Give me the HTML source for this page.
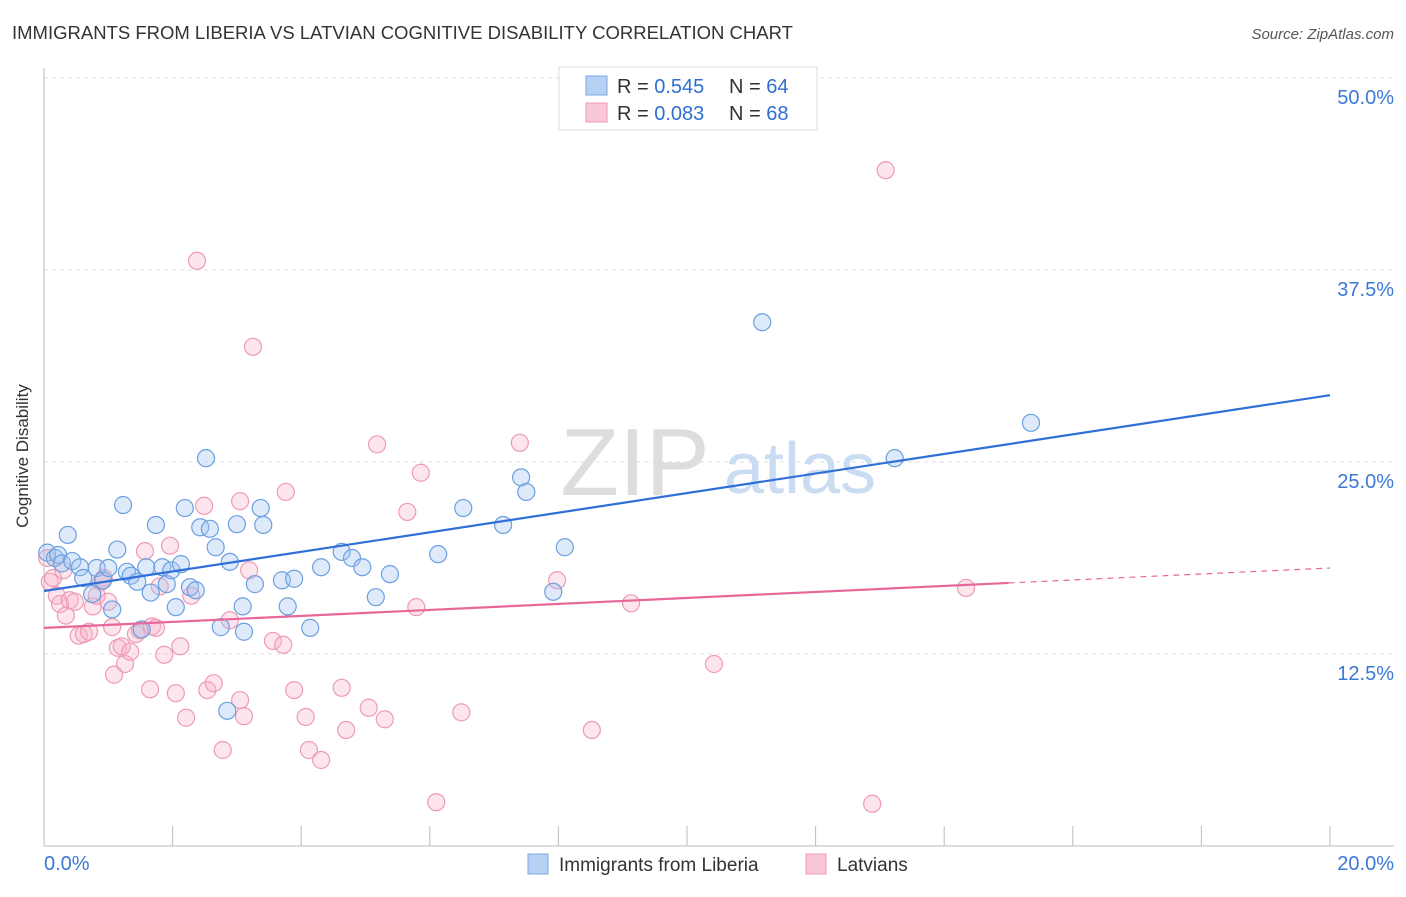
<!DOCTYPE html>
<html><head><meta charset="utf-8"><style>
body{margin:0;background:#fff;font-family:"Liberation Sans",sans-serif;}
svg text{font-family:"Liberation Sans",sans-serif;}
</style></head><body>
<svg id="chart" width="1406" height="892" xmlns="http://www.w3.org/2000/svg">
<text x="12" y="39" font-size="18.5" fill="#333">IMMIGRANTS FROM LIBERIA VS LATVIAN COGNITIVE DISABILITY CORRELATION CHART</text>
<text x="1394" y="39" font-size="15" fill="#555" text-anchor="end" font-style="italic">Source: ZipAtlas.com</text>
<text x="28" y="456" font-size="17" fill="#333" text-anchor="middle" transform="rotate(-90 28 456)">Cognitive Disability</text>
<g id="grid"></g>
<text x="635" y="495" font-size="96" fill="#ddd" font-family="Liberation Serif" text-anchor="middle">ZIP</text>
<text x="800" y="493" font-size="72" fill="#c9dcf2" text-anchor="middle">atlas</text>
<g id="marks"></g>
<g>
<rect x="559" y="67" width="258" height="63" fill="#fff" stroke="#ddd"/>
<rect x="586" y="76" width="21" height="19" fill="#b6d0f4" stroke="#7aa7e3"/>
<rect x="586" y="103" width="21" height="19" fill="#f9c8d6" stroke="#ef9ab5"/>
<text x="617" y="93" font-size="20" fill="#333">R = <tspan fill="#2f6fd1">0.545</tspan></text>
<text x="729" y="93" font-size="20" fill="#333">N = <tspan fill="#2f6fd1">64</tspan></text>
<text x="617" y="120" font-size="20" fill="#333">R = <tspan fill="#2f6fd1">0.083</tspan></text>
<text x="729" y="120" font-size="20" fill="#333">N = <tspan fill="#2f6fd1">68</tspan></text>
</g>
<g>
<rect x="528" y="854" width="20" height="20" fill="#b6d0f4" stroke="#7aa7e3"/>
<text x="559" y="871" font-size="19" fill="#333">Immigrants from Liberia</text>
<rect x="806" y="854" width="20" height="20" fill="#f9c8d6" stroke="#ef9ab5"/>
<text x="837" y="871" font-size="19" fill="#333">Latvians</text>
</g>
</svg>
<script>
const yTicks=[12.5,25,37.5,50];
const yTickLabels=["12.5%","25.0%","37.5%","50.0%"];
const xTicks=[2,4,6,8,10,12,14,16,18,20];
const xEndLabels=["0.0%","20.0%"];
const blueX=[0.05,0.17,0.22,0.28,0.37,0.44,0.56,0.61,0.75,0.82,0.92,1.0,1.06,1.14,1.23,1.29,1.35,1.45,1.52,1.59,1.66,1.74,1.84,1.91,1.98,2.05,2.13,2.19,2.27,2.36,2.43,2.52,2.58,2.67,2.75,2.85,2.89,3.0,3.09,3.11,3.28,3.37,3.41,3.7,3.79,3.89,4.14,4.31,4.63,4.79,4.95,5.16,5.38,6.13,6.52,7.14,7.42,7.5,7.92,8.1,11.17,13.23,15.35];
const blueY=[19.1,18.75,18.95,18.4,20.25,18.55,18.15,17.45,16.4,18.1,17.3,18.1,15.4,19.3,22.2,17.85,17.6,17.2,14.1,18.15,16.5,20.9,18.15,17.05,17.95,15.55,18.35,22.0,16.85,16.65,20.75,25.25,20.65,19.45,14.25,8.8,18.5,20.95,15.6,13.95,17.05,22.0,20.9,17.3,15.6,17.4,14.2,18.15,19.15,18.75,18.15,16.2,17.7,19.0,22.0,20.9,24.0,23.05,16.55,19.45,34.1,25.25,27.55];
const pinkX=[0.05,0.09,0.14,0.2,0.25,0.3,0.34,0.4,0.48,0.54,0.62,0.7,0.76,0.82,0.89,0.93,1.0,1.06,1.09,1.15,1.21,1.26,1.34,1.43,1.49,1.57,1.65,1.68,1.74,1.8,1.87,1.96,2.05,2.12,2.21,2.29,2.38,2.49,2.54,2.64,2.78,2.89,3.05,3.05,3.11,3.19,3.25,3.56,3.72,3.76,3.89,4.07,4.12,4.31,4.63,4.7,5.05,5.18,5.3,5.65,5.79,5.86,6.1,6.49,7.4,7.98,8.52,9.13,10.42,12.88,13.09,14.34];
const pinkY=[18.75,17.2,17.45,16.3,15.75,17.95,15.0,16.0,15.9,13.7,13.8,13.95,15.6,16.3,17.2,17.45,15.9,14.25,11.15,12.9,13.0,11.85,12.65,13.8,14.05,19.2,10.2,14.3,14.2,16.9,12.45,19.55,9.95,13.0,8.35,16.3,38.1,22.15,10.15,10.6,6.25,14.7,9.5,22.45,8.45,17.95,32.5,13.35,13.1,23.05,10.15,8.4,6.25,5.6,10.3,7.55,9.0,26.15,8.25,21.75,15.55,24.3,2.85,8.7,26.25,17.3,7.55,15.8,11.85,2.75,44.0,16.8];
const blueLine=[16.6,29.35];
const pinkLine=[14.2,18.1];
const pinkSolidEnd=15.0;

const NS="http://www.w3.org/2000/svg";
const X0=44,X1=1330,Y0=846,PX_PER_Y=15.36;
function sx(v){return X0+(X1-X0)*v/20;}
function sy(v){return Y0-v*PX_PER_Y;}
function mk(tag,attrs,parent){const e=document.createElementNS(NS,tag);for(const k in attrs)e.setAttribute(k,attrs[k]);parent.appendChild(e);return e;}
const grid=document.getElementById('grid'),marks=document.getElementById('marks');
yTicks.forEach((t,i)=>{
  const l=mk('line',{x1:X0,x2:1394,y1:sy(t),y2:sy(t),stroke:'#ddd','stroke-dasharray':'4,4'},grid);
  
  
  const tx=mk('text',{x:1394,y:sy(t)+26,'font-size':20,fill:'#3b78d8','text-anchor':'end'},grid);
  tx.textContent=yTickLabels[i];
  
  
});
const ax=mk('line',{x1:X0,x2:1394,y1:Y0,y2:Y0,stroke:'#bbb'},grid);


const ay=mk('line',{x1:X0,x2:X0,y1:68,y2:Y0,stroke:'#bbb'},grid);


xTicks.forEach(t=>{
  const l=mk('line',{x1:sx(t),x2:sx(t),y1:826,y2:Y0,stroke:'#bbb'},grid);
  
  
});
[[0,'start',44],[20,'end',1394]].forEach((d,i)=>{
  const tx=mk('text',{x:d[2],y:870,'font-size':20,fill:'#3b78d8','text-anchor':d[1]},grid);
  tx.textContent=xEndLabels[i];
  
  
});
function pts(xs,ys,fill,stroke,name){
  xs.forEach((x,i)=>{
    const c=mk('circle',{cx:sx(x),cy:sy(ys[i]),r:8.5,fill:fill,stroke:stroke,'stroke-width':1.2},marks);
    
    
  });
}
pts(pinkX,pinkY,'rgba(246,180,200,0.35)','#ef9ab5','latvians-point');
pts(blueX,blueY,'rgba(160,195,240,0.35)','#6b9fe0','liberia-point');
const bl=mk('line',{x1:sx(0),y1:sy(blueLine[0]),x2:sx(20),y2:sy(blueLine[1]),stroke:'#2f6fd8','stroke-width':2.2},marks);


const pm=pinkLine[0]+(pinkLine[1]-pinkLine[0])*pinkSolidEnd/20;
const pl=mk('line',{x1:sx(0),y1:sy(pinkLine[0]),x2:sx(pinkSolidEnd),y2:sy(pm),stroke:'#e8679a','stroke-width':2.2},marks);


const pd=mk('line',{x1:sx(pinkSolidEnd),y1:sy(pm),x2:sx(20),y2:sy(pinkLine[1]),stroke:'#e8679a','stroke-width':1.2,'stroke-dasharray':'6,5'},marks);


</script>
</body></html>
